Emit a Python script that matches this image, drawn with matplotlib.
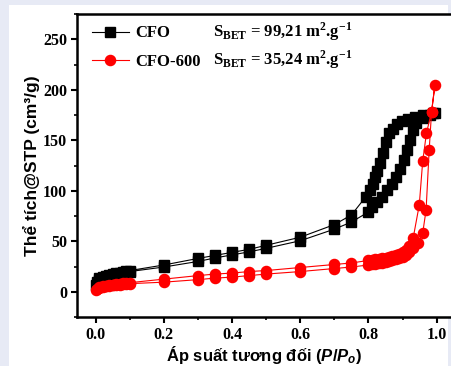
import matplotlib

matplotlib.use("Agg")
import matplotlib.pyplot as plt
from matplotlib.patches import Rectangle
from matplotlib.ticker import MultipleLocator

# CFO (black squares): adsorption branch then desorption branch
cfo_p_ads = [0.001, 0.005, 0.01, 0.02, 0.03, 0.04, 0.05, 0.06, 0.07, 0.08, 0.09, 0.1,
             0.2, 0.3, 0.35, 0.4, 0.45, 0.5, 0.6, 0.7, 0.75, 0.8, 0.81, 0.825, 0.84,
             0.855, 0.868, 0.88, 0.892, 0.904, 0.914, 0.922, 0.931, 0.94, 0.96, 0.98, 0.995]
cfo_v_ads = [7.0, 10.0, 12.0, 13.5, 14.5, 15.5, 16.3, 17.0, 17.8, 18.5, 19.2, 20.0,
             24.5, 30.0, 33.5, 36.5, 39.5, 43.0, 50.5, 62.0, 69.0, 79.0, 84.0, 89.0, 94.0,
             100.6, 107.0, 114.0, 122.0, 130.0, 140.0, 150.0, 160.0, 167.0, 172.0, 175.0, 177.0]
cfo_p_des = [0.99, 0.96, 0.936, 0.917, 0.897, 0.883, 0.871, 0.861, 0.851, 0.842, 0.834,
             0.826, 0.819, 0.814, 0.804, 0.792, 0.75, 0.7, 0.6, 0.5, 0.45, 0.4, 0.35, 0.3,
             0.2, 0.1, 0.09, 0.08, 0.07, 0.06, 0.05, 0.04, 0.03, 0.02, 0.01]
cfo_v_des = [176.5, 174.8, 173.0, 171.5, 169.0, 166.0, 161.6, 156.7, 148.4, 137.0, 127.0,
             120.0, 114.0, 107.0, 100.6, 94.0, 76.0, 66.5, 54.0, 46.0, 42.0, 39.0, 36.0, 33.0,
             26.5, 21.0, 20.3, 19.6, 18.9, 18.2, 17.5, 16.7, 15.8, 14.8, 13.2]

# CFO-600 (red circles)
red_p_ads = [0.001, 0.005, 0.01, 0.02, 0.03, 0.04, 0.05, 0.06, 0.07, 0.08, 0.09, 0.1,
             0.2, 0.3, 0.35, 0.4, 0.45, 0.5, 0.6, 0.7, 0.75, 0.8, 0.81, 0.82, 0.83, 0.84,
             0.85, 0.86, 0.87, 0.88, 0.89, 0.9, 0.91, 0.92, 0.93, 0.946, 0.959, 0.969,
             0.978, 0.985, 0.995]
red_v_ads = [1.5, 3.0, 4.0, 4.8, 5.3, 5.8, 6.2, 6.6, 7.0, 7.3, 7.6, 8.0,
             9.5, 12.0, 13.5, 14.5, 16.0, 17.5, 20.0, 23.0, 24.5, 26.5, 27.0, 27.5, 28.0, 28.7,
             29.4, 30.2, 31.0, 32.0, 33.0, 34.5, 36.5, 39.0, 43.0, 48.0, 58.0, 81.0,
             140.0, 178.0, 205.0]
red_p_des = [0.985, 0.97, 0.959, 0.949, 0.931, 0.92, 0.91, 0.9, 0.89, 0.88, 0.87, 0.86,
             0.85, 0.84, 0.83, 0.82, 0.81, 0.8, 0.75, 0.7, 0.6, 0.5, 0.45, 0.4, 0.35, 0.3,
             0.2, 0.1, 0.09, 0.08, 0.07, 0.06, 0.05, 0.04, 0.03, 0.02, 0.01]
red_v_des = [178.0, 157.0, 129.0, 86.0, 53.0, 45.0, 41.5, 39.0, 37.5, 36.0, 35.0, 34.0,
             33.5, 33.0, 32.5, 32.0, 31.5, 31.0, 28.5, 27.0, 24.0, 21.0, 20.0, 18.5, 17.5, 16.0,
             12.5, 9.0, 8.6, 8.2, 7.8, 7.4, 7.0, 6.5, 6.0, 5.4, 4.6]

labels = ["CFO", "CFO-600"]
sbet = ["99,21", "35,24"]
x_ticks = [0.0, 0.2, 0.4, 0.6, 0.8, 1.0]
y_ticks = [0, 50, 100, 150, 200, 250]

plt.rcParams["mathtext.fontset"] = "custom"
plt.rcParams["mathtext.rm"] = "Liberation Serif:bold"
plt.rcParams["mathtext.bf"] = "Liberation Serif:bold"
plt.rcParams["mathtext.it"] = "Liberation Sans:italic:bold"

fig = plt.figure(figsize=(4.52, 3.66), dpi=100)
fig.patch.set_facecolor("#e7eaf5")
fig.patches.append(Rectangle((9 / 452, 0), 439 / 452, 1 - 5 / 366,
                             transform=fig.transFigure, facecolor="white",
                             edgecolor="none", zorder=-10))

ax = fig.add_axes([77 / 452, 1 - 317 / 366, 1 - 77 / 452, (317 - 14) / 366])

ax.plot(cfo_p_ads + cfo_p_des, cfo_v_ads + cfo_v_des, color="black", lw=0.8,
        marker="s", ms=6.5, label=labels[0])
ax.plot(red_p_ads + red_p_des, red_v_ads + red_v_des, color="red", lw=0.8,
        marker="o", ms=7.3, label=labels[1])

ax.set_xlim(-0.055, 1.045)
ax.set_ylim(-25, 275)
ax.set_xticks(x_ticks)
ax.set_yticks(y_ticks)
ax.xaxis.set_minor_locator(MultipleLocator(0.1))
ax.yaxis.set_minor_locator(MultipleLocator(25))
ax.tick_params(which="major", direction="out", length=4, width=1.5,
               labelsize=11.5, top=False, right=False, pad=3)
ax.tick_params(which="minor", direction="out", length=2.5, width=1.2,
               top=False, right=False)
for lab in ax.get_xticklabels() + ax.get_yticklabels():
    lab.set_fontfamily("Liberation Serif")
    lab.set_fontweight("bold")

for side in ["left", "bottom", "top"]:
    ax.spines[side].set_linewidth(1.8)
ax.spines["right"].set_visible(False)

ax.set_xlabel("Áp suất tương đối ($P$/$P_o$)", family=["Liberation Sans", "DejaVu Sans"],
              fontweight="bold", fontsize=12, labelpad=1)
ax.set_ylabel("Thể tích@STP (cm³/g)", family=["Liberation Sans", "DejaVu Sans"],
              fontweight="bold", fontsize=12.5, labelpad=2)

ax.legend(loc="upper left", bbox_to_anchor=(0.0, 1.012), frameon=False,
          prop={"family": "Liberation Serif", "weight": "bold", "size": 12},
          handlelength=2.2, handletextpad=0.4, labelspacing=0.75)

for i, val in enumerate(sbet):
    ax.text(0.363, 0.94 - i * 0.092,
            "S$_{\\mathrm{BET}}$ = " + val + " m$^{\\mathrm{2}}$.g$^{\\mathrm{-1}}$",
            transform=ax.transAxes, family="Liberation Serif", fontweight="bold",
            fontsize=12, va="center")

fig.savefig("out.png", dpi=100, facecolor=fig.get_facecolor())
